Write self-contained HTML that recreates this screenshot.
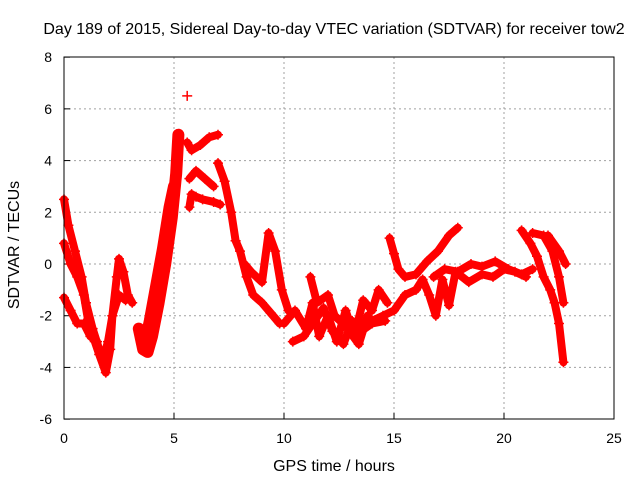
<!DOCTYPE html>
<html><head><meta charset="utf-8"><style>
body{margin:0;background:#fff}
text{font-family:"Liberation Sans",sans-serif;font-size:14px;fill:#000}
.big{font-size:16px}
</style></head><body>
<svg id="chart" width="640" height="480">
<text class="big" x="334" y="34" text-anchor="middle">Day 189 of 2015, Sidereal Day-to-day VTEC variation (SDTVAR) for receiver tow2</text>
<text class="big" x="334" y="471" text-anchor="middle">GPS time / hours</text>
<text class="big" x="19" y="245" text-anchor="middle" transform="rotate(-90 19 245)">SDTVAR / TECUs</text>
<g id="grid"></g><g id="marks"></g>
<rect x="64" y="57" width="550" height="362" fill="none" stroke="#000" stroke-width="1"/>
</svg>
<script>
const xTicks=[0,5,10,15,20,25];
const yTicks=[-6,-4,-2,0,2,4,6,8];
const track1=[[3.4,-2.5],[3.6,-3.3],[3.8,-3.4],[4.0,-2.8],[4.3,-1.5],[4.6,0],[4.9,1.8],[5.1,3.5],[5.2,5.0]];
const track1b=[[3.7,-3.0],[3.9,-2.2],[4.2,-0.8],[4.5,0.6],[4.8,2.2],[5.0,3.0]];
const track2=[[0,2.5],[0.2,1.5],[0.5,0.5],[0.8,-0.5],[1.0,-1.5],[1.3,-2.5],[1.6,-3.3],[1.8,-3.6],[2.0,-3.0],[2.2,-2.0],[2.4,-0.5],[2.5,0.2],[2.7,-0.3],[2.9,-1.2],[3.1,-1.5]];
const track3=[[0,0.8],[0.3,0],[0.6,-0.5],[0.9,-1.2],[1.1,-2.2],[1.4,-3.0],[1.6,-3.5],[1.9,-4.2],[2.1,-3.3],[2.2,-2.0],[2.5,-1.2],[2.8,-1.4]];
const track4=[[0,-1.3],[0.3,-1.8],[0.6,-2.3],[0.9,-2.3],[1.2,-2.8],[1.5,-3.0]];
const track5=[[5.6,4.7],[5.8,4.4],[6.2,4.6],[6.6,4.9],[7.0,5.0]];
const track6=[[5.7,2.2],[5.8,2.7],[6.0,2.6],[6.3,2.5],[6.8,2.4],[7.1,2.3]];
const track7=[[5.7,3.3],[6.0,3.6],[6.4,3.3],[6.8,3.0]];
const track8=[[7.0,3.9],[7.3,3.2],[7.6,2.0],[7.8,0.9],[8.0,0.5],[8.3,-0.5],[8.6,-1.2],[9.0,-1.5],[9.4,-1.9],[9.8,-2.3]];
const track9=[[8.2,0],[8.5,-0.3],[9.0,-0.7],[9.3,1.2],[9.6,0.5],[9.9,-1.0],[10.2,-1.8]];
const track10=[[10.0,-2.3],[10.5,-1.8],[11.0,-2.5],[11.3,-1.5],[11.6,-2.8],[12.0,-2.0],[12.4,-3.0],[12.8,-1.8],[13.2,-2.8],[13.6,-1.4],[14.0,-1.8],[14.3,-1.0],[14.7,-1.5]];
const track11=[[10.4,-3.0],[10.9,-2.8],[11.3,-2.3],[11.8,-1.7],[12.2,-2.6],[12.7,-3.1],[13.1,-2.2],[13.5,-2.6],[14.0,-2.3],[14.6,-2.2]];
const track12=[[11.2,-0.5],[11.5,-1.5],[12.0,-1.2],[12.3,-2.0],[12.8,-2.4],[13.4,-3.1],[13.8,-2.0]];
const track13=[[14.8,1.0],[15.0,0.4],[15.2,-0.2],[15.5,-0.5],[16.0,-0.4],[16.5,0.1],[17.0,0.5],[17.5,1.1],[17.9,1.4]];
const track14=[[14.0,-2.2],[14.5,-2.0],[15.0,-1.8],[15.5,-1.2],[16.0,-1.0],[16.3,-0.6],[16.6,-1.2],[16.9,-2.0],[17.2,-0.6],[17.5,-1.6],[17.8,-0.3],[18.4,-0.7],[19.0,-0.4],[19.5,-0.5],[20.0,-0.2],[20.5,-0.3],[21.0,-0.5]];
const track15=[[16.8,-0.5],[17.3,-0.2],[17.9,-0.3],[18.5,0],[19.0,-0.1],[19.6,0.1],[20.2,-0.2],[20.8,-0.4],[21.3,-0.2]];
const track16=[[20.8,1.3],[21.2,0.8],[21.5,0.3],[21.8,-0.5],[22.1,-1.0],[22.3,-1.5],[22.5,-2.3],[22.7,-3.8]];
const track17=[[21.3,1.2],[21.8,1.1],[22.2,0.5],[22.5,-0.5],[22.7,-1.5]];
const track18=[[22.0,1.1],[22.5,0.5],[22.8,0]];
const outliers=[[5.6,6.5]];
const tracks=[track1,track1b,track2,track3,track4,track5,track6,track7,track8,track9,track10,track11,track12,track13,track14,track15,track16,track17,track18,outliers];
const X=v=>64+v*22, Y=v=>264-v*25.857;
const NS='http://www.w3.org/2000/svg';
const grid=document.getElementById('grid'), marks=document.getElementById('marks'), svg=document.getElementById('chart');
function mk(t,a,p){const e=document.createElementNS(NS,t);for(const k in a)e.setAttribute(k,a[k]);p.appendChild(e);return e;}
xTicks.forEach(v=>{
 if(v>0&&v<25){const g=mk('line',{x1:X(v),x2:X(v),y1:57,y2:419,stroke:'#a0a0a0','stroke-dasharray':'2,3'},grid);
 
 }
 const t=mk('line',{x1:X(v),x2:X(v),y1:419,y2:413,stroke:'#000'},grid);
 
 
 const l=mk('text',{x:X(v),y:443,'text-anchor':'middle'},svg);l.textContent=v;
 
 
});
yTicks.forEach(v=>{
 if(v>-6&&v<8){const g=mk('line',{x1:64,x2:614,y1:Y(v),y2:Y(v),stroke:'#a0a0a0','stroke-dasharray':'2,3'},grid);
 
 }
 const t=mk('line',{x1:64,x2:70,y1:Y(v),y2:Y(v),stroke:'#000'},grid);
 
 
 const l=mk('text',{x:52,y:Y(v)+5,'text-anchor':'end'},svg);l.textContent=v;
 
 
});
tracks.forEach((tr,i)=>{
 const g=mk('g',{},marks);
 
 
 if(tr.length>1){mk('polyline',{points:tr.map(p=>X(p[0])+','+Y(p[1])).join(' '),fill:'none',stroke:'#ff0000','stroke-width':(i<2?12:8),'stroke-linejoin':'round','stroke-linecap':'round'},g);}
 tr.forEach(p=>{
  const m=mk('path',{d:`M${X(p[0])-5},${Y(p[1])}h10M${X(p[0])},${Y(p[1])-5}v10`,stroke:'#ff0000','stroke-width':1.5},g);
  
  
 });
});
</script>
</body></html>
